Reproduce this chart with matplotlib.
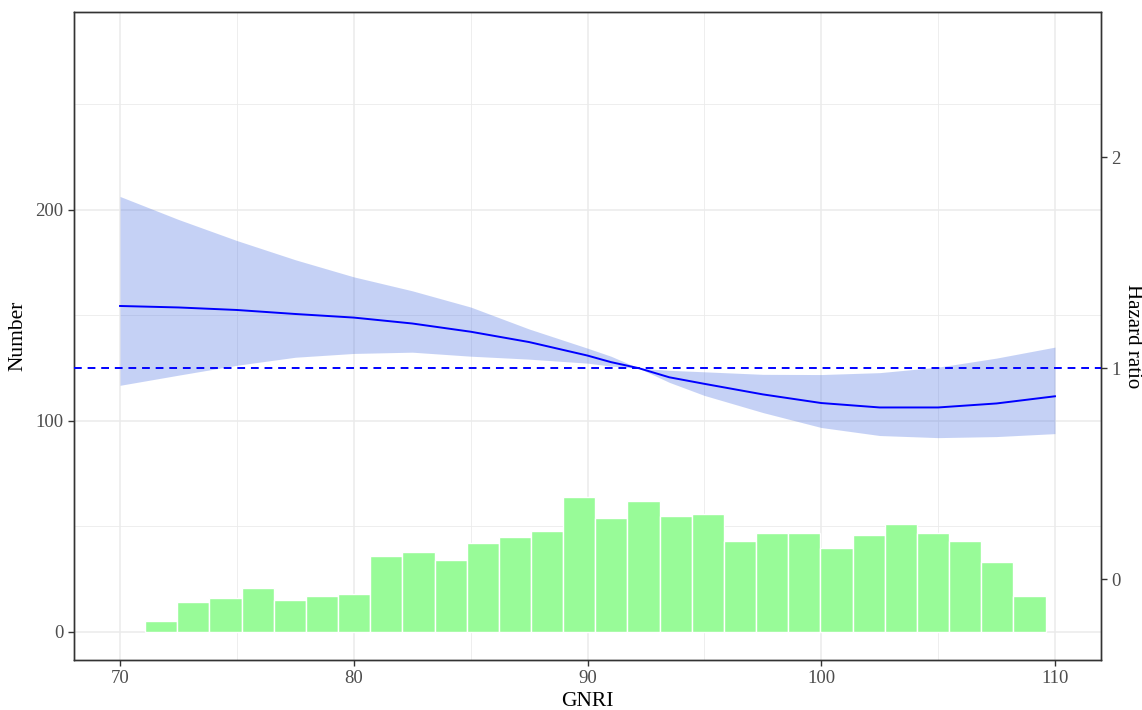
import numpy as np
import matplotlib
matplotlib.use('Agg')
import matplotlib.pyplot as plt

plt.rcParams['font.family'] = ['Liberation Serif', 'DejaVu Serif']

# histogram of GNRI (counts per bin)
bin_start = 71.07
bin_width = 1.376
counts = [5, 14, 16, 21, 15, 17, 18, 36, 38, 34, 42, 45, 48, 64,
          54, 62, 55, 56, 43, 47, 47, 40, 46, 51, 47, 43, 33, 17]

# restricted cubic spline hazard ratio with 95% CI
gnri = [70, 72.5, 75, 77.5, 80, 82.5, 85, 87.5, 90, 91, 92.2, 93.5,
        95, 97.5, 100, 102.5, 105, 107.5, 110]
hr = [1.295, 1.288, 1.276, 1.257, 1.240, 1.212, 1.173, 1.124, 1.060, 1.029, 1.0, 0.957,
      0.926, 0.876, 0.835, 0.814, 0.814, 0.833, 0.867]
hr_upper = [1.814, 1.705, 1.605, 1.514, 1.433, 1.367, 1.290, 1.186, 1.095, 1.057, 1.0, 0.990,
            0.983, 0.971, 0.970, 0.979, 1.005, 1.048, 1.100]
hr_lower = [0.919, 0.967, 1.014, 1.052, 1.070, 1.076, 1.057, 1.043, 1.024, 1.010, 1.0, 0.933,
            0.871, 0.790, 0.719, 0.681, 0.671, 0.676, 0.690]

# Number = 100 * HR + 25
scale, offset = 100, 25
ylim_left = (-13.3, 293.8)

fig = plt.figure(figsize=(11.42, 7.10), dpi=100)
ax = fig.add_axes([0.0648, 0.0704, 0.8993, 0.9126])
ax2 = ax.twinx()

edges = bin_start + bin_width * np.arange(len(counts))
ax.bar(edges, counts, width=bin_width, align='edge', color='#98FB98',
       edgecolor='white', linewidth=1.0, zorder=2)

ax.set_xlim(68.03, 111.97)
ax.set_ylim(*ylim_left)
ax2.set_ylim((ylim_left[0] - offset) / scale, (ylim_left[1] - offset) / scale)

ax2.fill_between(gnri, hr_lower, hr_upper, color='royalblue', alpha=0.3,
                 linewidth=0, zorder=2)
ax2.plot(gnri, hr, color='blue', linewidth=1.4, zorder=3)
ax2.axhline(1, color='blue', linestyle=(0, (4, 3)), linewidth=1.4, zorder=3)

ax.set_xticks([70, 80, 90, 100, 110])
ax.set_xticks([75, 85, 95, 105], minor=True)
ax.set_yticks([0, 100, 200])
ax.set_yticks([50, 150, 250], minor=True)
ax2.set_yticks([0, 1, 2])

ax.grid(True, which='major', color='#EBEBEB', linewidth=1.1, zorder=0)
ax.grid(True, which='minor', color='#EBEBEB', linewidth=0.6, zorder=0)
ax.set_axisbelow(True)

for a in (ax, ax2):
    for s in a.spines.values():
        s.set_color('#333333')
        s.set_linewidth(1.0)
    a.tick_params(which='major', length=4, width=1.0, color='#333333',
                  labelcolor='#4D4D4D', labelsize=13.5)
    a.tick_params(which='minor', length=0)

ax.set_xlabel('GNRI', fontsize=15.5, labelpad=3)
ax.set_ylabel('Number', fontsize=15.5, labelpad=6)
ax2.set_ylabel('Hazard ratio', fontsize=15, rotation=270, labelpad=15)

fig.savefig('out.png', dpi=100)
